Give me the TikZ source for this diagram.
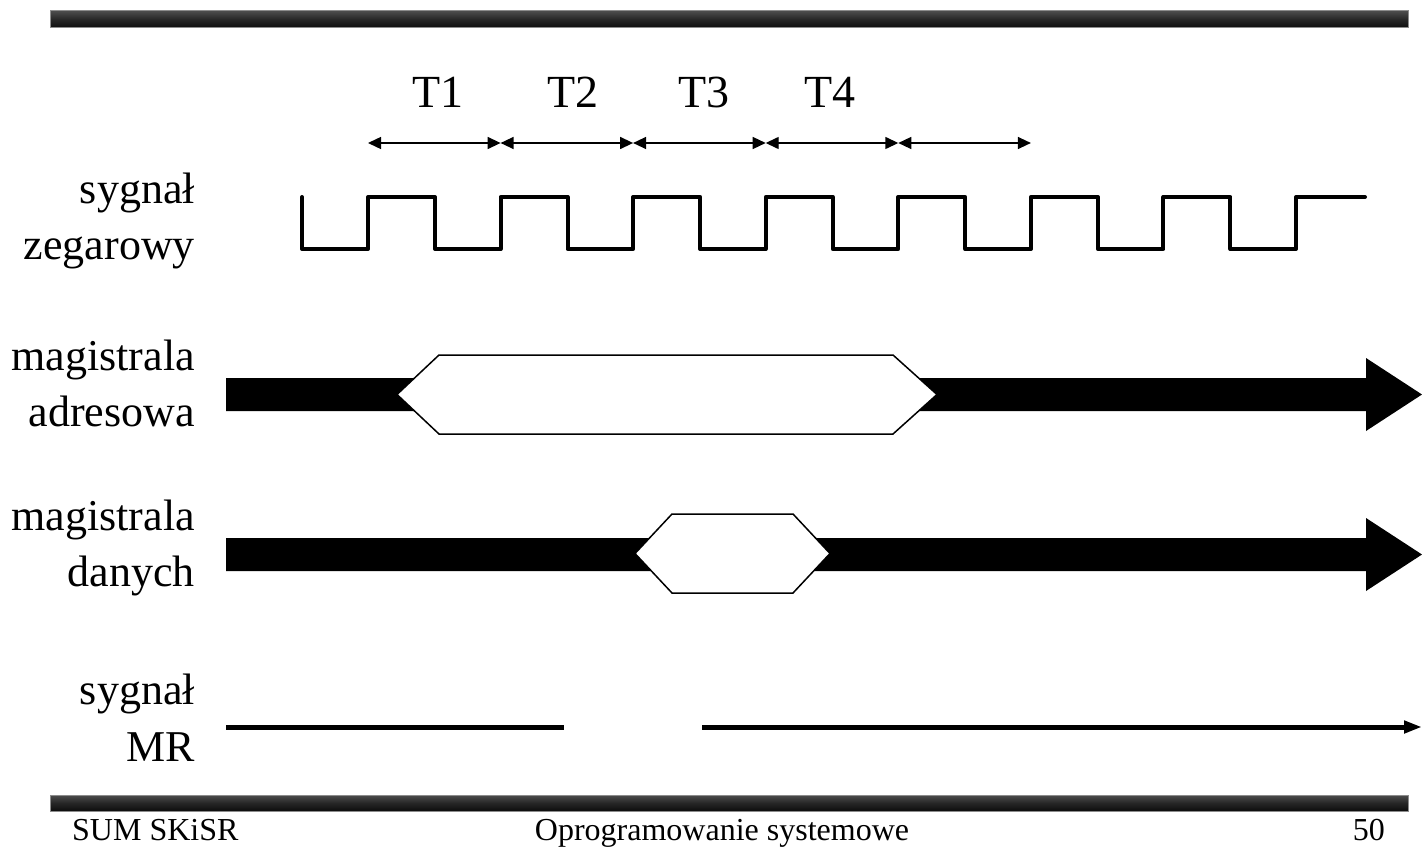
\documentclass[tikz,border=0pt]{standalone}
\usepackage{fontspec}
\setmainfont{Liberation Serif}
\usetikzlibrary{arrows.meta}
\begin{document}
\begin{tikzpicture}[x=1pt,y=-1pt,
  lbl/.style={inner sep=0pt,anchor=base east,font=\fontsize{44}{57}\selectfont},
  tlbl/.style={inner sep=0pt,anchor=base,font=\fontsize{46}{57}\selectfont},
  foot/.style={inner sep=0pt,font=\fontsize{32}{38}\selectfont},
  sepbar/.style={top color=black!70,bottom color=black!95,middle color=black!85,draw=black!45,line width=1pt},
  clk/.style={line width=4pt,line join=round,line cap=round},
  tarrow/.style={line width=1.4pt,{Triangle[length=13pt,width=12pt]}-{Triangle[length=13pt,width=12pt]}},
  busfill/.style={fill=black},
  hexa/.style={fill=white,draw=black,line width=1.5pt,line join=miter},
  mrline/.style={line width=5pt}]
\useasboundingbox (0,0) rectangle (1422,853);
% separator bars
\path[sepbar] (50,11) rectangle (1408,28);
\path[sepbar] (50,795) rectangle (1408,811);
% labels
\node[lbl] (l1a) at (195,204) {sygnał};
\node[lbl] (l1b) at (195,260) {zegarowy};
\node[lbl] (l2a) at (195,370) {magistrala};
\node[lbl] (l2b) at (195,426) {adresowa};
\node[lbl] (l3a) at (195,530) {magistrala};
\node[lbl] (l3b) at (195,586) {danych};
\node[lbl] (l4a) at (195,704) {sygnał};
\node[lbl] (l4b) at (195,761) {MR};
% T labels
\node[tlbl] (t1) at (438,108) {T1};
\node[tlbl] (t2) at (573,108) {T2};
\node[tlbl] (t3) at (704,108) {T3};
\node[tlbl] (t4) at (830,108) {T4};
% period arrows
\coordinate (p0) at (368,143);
\coordinate (p1) at (500.6,143);
\coordinate (p2) at (633.1,143);
\coordinate (p3) at (765.7,143);
\coordinate (p4) at (898.3,143);
\coordinate (p5) at (1030.9,143);
\draw[tarrow] (p0) -- (p1);
\draw[tarrow] (p1) -- (p2);
\draw[tarrow] (p2) -- (p3);
\draw[tarrow] (p3) -- (p4);
\draw[tarrow] (p4) -- (p5);
% clock
\draw[clk] (302,197) -- (302,249)
  -- (368,249) -- (368,197) -- (435,197) -- (435,249)
  -- (500.6,249) -- (500.6,197) -- (567.6,197) -- (567.6,249)
  -- (633.1,249) -- (633.1,197) -- (700.2,197) -- (700.2,249)
  -- (765.7,249) -- (765.7,197) -- (832.7,197) -- (832.7,249)
  -- (898.3,249) -- (898.3,197) -- (965.3,197) -- (965.3,249)
  -- (1030.9,249) -- (1030.9,197) -- (1097.9,197) -- (1097.9,249)
  -- (1163.4,249) -- (1163.4,197) -- (1230.4,197) -- (1230.4,249)
  -- (1296,249) -- (1296,197) -- (1365,197);
% address bus
\path[busfill] (226,378) -- (1366,378) -- (1366,358) -- (1422,394.5) -- (1366,431) -- (1366,411) -- (226,411) -- cycle;
\path[hexa] (397,394.5) -- (439,355) -- (893,355) -- (937,394.5) -- (893,434) -- (439,434) -- cycle;
% data bus
\path[busfill] (226,538) -- (1366,538) -- (1366,518) -- (1422,554.5) -- (1366,591) -- (1366,571) -- (226,571) -- cycle;
\path[hexa] (635,553.5) -- (672,514) -- (793,514) -- (830,553.5) -- (793,593) -- (672,593) -- cycle;
% MR signal
\coordinate (m0) at (226,727);
\coordinate (m1) at (564,727);
\coordinate (m2) at (702,727);
\coordinate (m3) at (1422,727);
\draw[mrline] (m0) -- (m1);
\draw[mrline,-{Triangle[length=18pt,width=12pt]}] (m2) -- (m3);
% footer
\node[foot,anchor=base west] (f1) at (72,840) {SUM SKiSR};
\node[foot,anchor=base] (f2) at (722,840) {Oprogramowanie systemowe};
\node[foot,anchor=base east] (f3) at (1385,840) {50};
\end{tikzpicture}
\end{document}
